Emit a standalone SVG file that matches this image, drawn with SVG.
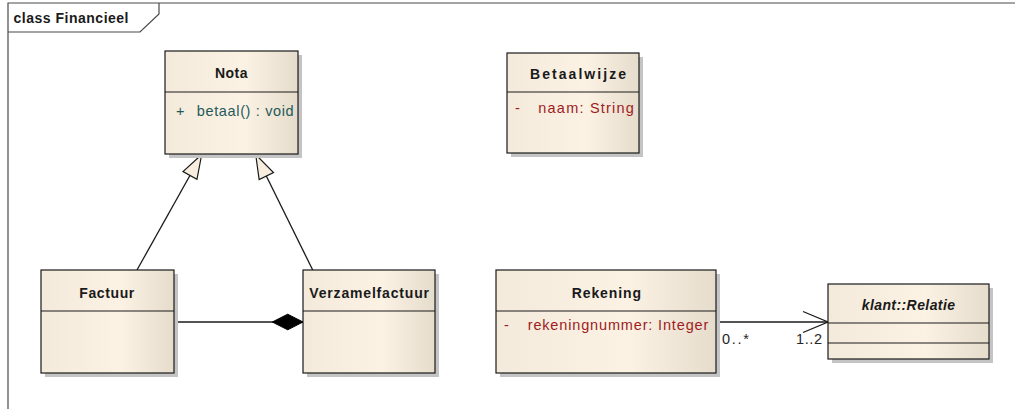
<svg xmlns="http://www.w3.org/2000/svg" width="1015" height="409" viewBox="0 0 1015 409">
<style>
  .box { fill: url(#boxfill); stroke: #1a1a1a; stroke-width: 1.2; }
  .shadow { fill: #c4c4c4; }
  .div { stroke: #1a1a1a; stroke-width: 1.2; fill: none; }
  .hdr { font-family: "Liberation Sans", Arial, sans-serif; font-size: 14px; font-weight: bold; fill: #1a1a1a; }
  .ital { font-style: italic; }
  .priv { font-family: "Liberation Sans", Arial, sans-serif; font-size: 14.5px; fill: #a01c1c; }
  .pub { font-family: "Liberation Sans", Arial, sans-serif; font-size: 14.5px; fill: #1f5a5a; }
  .mult { font-family: "Liberation Sans", Arial, sans-serif; font-size: 14.5px; fill: #262626; }
  .conn { stroke: #1a1a1a; stroke-width: 1.3; fill: none; }
  .frame { stroke: #4a4a4a; stroke-width: 1.2; fill: none; }
</style>
<defs>
  <linearGradient id="boxfill" x1="0" y1="0" x2="1" y2="0">
    <stop offset="0" stop-color="#f3eadb"/>
    <stop offset="0.6" stop-color="#fbf2e4"/>
    <stop offset="1" stop-color="#e5dccc"/>
  </linearGradient>
  <marker id="gen" markerUnits="userSpaceOnUse" viewBox="-26 -10 28 20" markerWidth="28" markerHeight="20" refX="0" refY="0" orient="auto" overflow="visible">
    <path d="M0,0 L-24,-8 L-24,8 Z" fill="#f7eedf" stroke="#1a1a1a" stroke-width="1.2"/>
  </marker>
  <marker id="comp" markerUnits="userSpaceOnUse" viewBox="-32 -10 34 20" markerWidth="34" markerHeight="20" refX="0" refY="0" orient="auto" overflow="visible">
    <path d="M0,0 L-15.3,-7.8 L-30.7,0 L-15.3,7.8 Z" fill="#000" stroke="#000" stroke-width="1"/>
  </marker>
  <marker id="open" markerUnits="userSpaceOnUse" viewBox="-27 -12 29 24" markerWidth="29" markerHeight="24" refX="0" refY="0" orient="auto" overflow="visible">
    <path d="M-25,-10.5 L0,0 L-25,10.5" fill="none" stroke="#1a1a1a" stroke-width="1.3"/>
  </marker>
</defs>
<rect width="1015" height="409" fill="#ffffff"/>

<g id="frame">
  <path class="frame" d="M8,409 L8,3 L1015,3"/>
  <path class="frame" d="M8,32 L140,32 L159,14 L159,3"/>
  <text class="hdr" x="13.5" y="23" textLength="115" lengthAdjust="spacing">class Financieel</text>
</g>

<g id="connectors">
  <path class="conn" d="M137,270 L201.7,154.5" marker-end="url(#gen)"/>
  <path class="conn" d="M312.7,270 L255.7,154.5" marker-end="url(#gen)"/>
  <path class="conn" d="M174,322 L303,322" marker-end="url(#comp)"/>
  <path class="conn" d="M716,322 L828,322" marker-end="url(#open)"/>
  <text class="mult" x="722" y="343.5" textLength="27" lengthAdjust="spacing">0..*</text>
  <text class="mult" x="796" y="343.5" textLength="26" lengthAdjust="spacing">1..2</text>
</g>

<g id="Nota">
  <rect class="shadow" x="169" y="55" width="133" height="103"/>
  <rect class="box" x="165" y="51" width="133" height="103"/>
  <line class="div" x1="165" y1="92" x2="298" y2="92"/>
  <text class="hdr" x="215" y="78" textLength="32.5" lengthAdjust="spacing">Nota</text>
  <text class="pub" x="176" y="115.5">+</text>
  <text class="pub" x="196.7" y="115.5" textLength="97" lengthAdjust="spacing">betaal() : void</text>
</g>

<g id="Betaalwijze">
  <rect class="shadow" x="511" y="57" width="132" height="100"/>
  <rect class="box" x="507" y="53" width="132" height="100"/>
  <line class="div" x1="507" y1="92" x2="639" y2="92"/>
  <text class="hdr" x="530" y="78.5" textLength="96" lengthAdjust="spacing">Betaalwijze</text>
  <text class="priv" x="515" y="113">-</text>
  <text class="priv" x="538.3" y="113" textLength="95.5" lengthAdjust="spacing">naam:  String</text>
</g>

<g id="Factuur">
  <rect class="shadow" x="45" y="274" width="133" height="103"/>
  <rect class="box" x="41" y="270" width="133" height="103"/>
  <line class="div" x1="41" y1="311" x2="174" y2="311"/>
  <text class="hdr" x="79.3" y="298" textLength="55" lengthAdjust="spacing">Factuur</text>
</g>

<g id="Verzamelfactuur">
  <rect class="shadow" x="307" y="274" width="132" height="103"/>
  <rect class="box" x="303" y="270" width="132" height="103"/>
  <line class="div" x1="303" y1="311" x2="435" y2="311"/>
  <text class="hdr" x="309.3" y="298" textLength="119.7" lengthAdjust="spacing">Verzamelfactuur</text>
</g>

<g id="Rekening">
  <rect class="shadow" x="500" y="274" width="220" height="103"/>
  <rect class="box" x="496" y="270" width="220" height="103"/>
  <line class="div" x1="496" y1="311" x2="716" y2="311"/>
  <text class="hdr" x="571.7" y="298" textLength="69.3" lengthAdjust="spacing">Rekening</text>
  <text class="priv" x="504" y="330">-</text>
  <text class="priv" x="527.7" y="330" textLength="180.6" lengthAdjust="spacing">rekeningnummer:  Integer</text>
</g>

<g id="klant_Relatie">
  <rect class="shadow" x="832" y="288" width="161" height="75"/>
  <rect class="box" x="828" y="284" width="161" height="75"/>
  <line class="div" x1="828" y1="323" x2="989" y2="323"/>
  <line class="div" x1="828" y1="343" x2="989" y2="343"/>
  <text class="hdr ital" x="861.7" y="310" textLength="93.3" lengthAdjust="spacing">klant::Relatie</text>
</g>
</svg>
